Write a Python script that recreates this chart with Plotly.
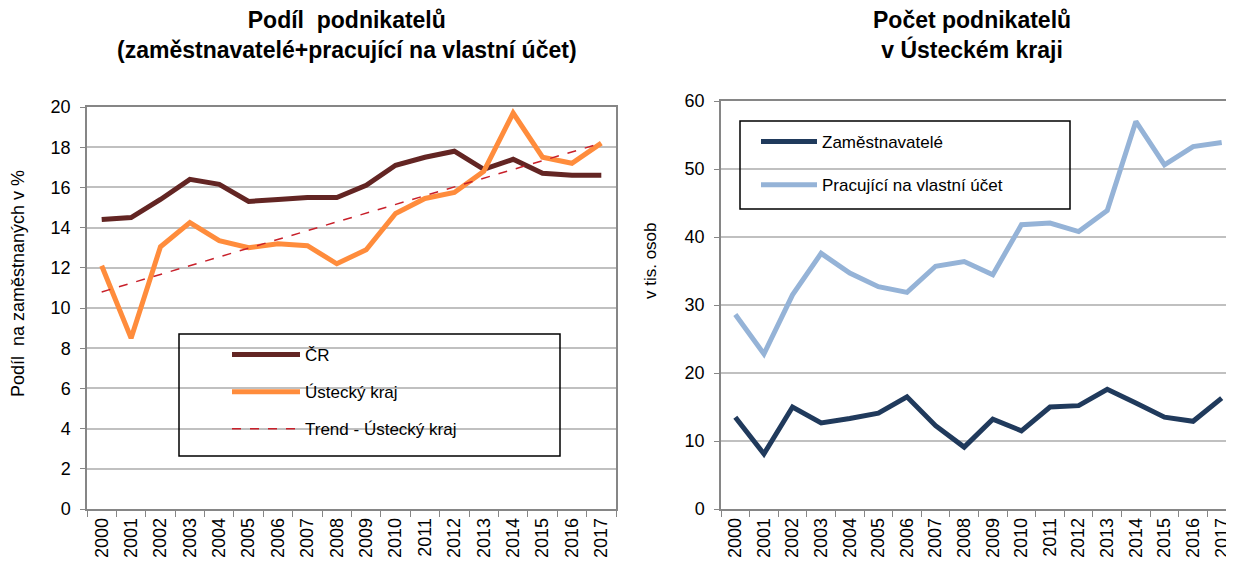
import plotly.graph_objects as go

years = [str(y) for y in range(2000, 2018)]

# Left chart: share of entrepreneurs (%)
podil_cr = [14.4, 14.5, 15.4, 16.4, 16.15, 15.3, 15.4, 15.5, 15.5, 16.1,
            17.1, 17.5, 17.8, 16.9, 17.4, 16.7, 16.6, 16.6]
podil_ustecky = [12.1, 8.5, 13.05, 14.25, 13.35, 13.0, 13.2, 13.1, 12.2, 12.9,
                 14.7, 15.45, 15.75, 16.8, 19.7, 17.5, 17.2, 18.2]
trend_years = ["2000", "2017"]
trend_values = [10.8, 18.2]

# Right chart: number of entrepreneurs in Ústecký kraj (thousands)
zamestnavatele = [13.5, 8.1, 15.0, 12.65, 13.3, 14.1, 16.5, 12.25, 9.1, 13.2,
                  11.5, 15.0, 15.2, 17.6, 15.6, 13.5, 12.9, 16.3]
pracujici = [28.6, 22.8, 31.5, 37.6, 34.7, 32.7, 31.85, 35.7, 36.4, 34.45,
             41.8, 42.05, 40.8, 43.9, 57.0, 50.6, 53.3, 53.9]

W, H = 1234, 569
OFF = 8  # page body margin
FONT = "Liberation Sans, Arial"
TICK_FONT = dict(family=FONT, size=18, color="#000000")
GRID = "#C0C0C0"
AXIS = "#868686"


def px_x(x):
    return (x - OFF) / W


def px_y(y):
    return 1 - (y - OFF) / H


fig = go.Figure()

fig.add_trace(go.Scatter(
    x=years, y=podil_cr, mode="lines", name="ČR",
    line=dict(color="#632523", width=5), legendgroup="a",
    xaxis="x", yaxis="y", legend="legend"
))
fig.add_trace(go.Scatter(
    x=years, y=podil_ustecky, mode="lines", name="Ústecký kraj",
    line=dict(color="#FF8C3C", width=5), legendgroup="b",
    xaxis="x", yaxis="y", legend="legend"
))
fig.add_trace(go.Scatter(
    x=trend_years, y=trend_values, mode="lines", name="Trend - Ústecký kraj",
    line=dict(color="#C8202A", width=1.5, dash="dash"), legendgroup="c",
    xaxis="x", yaxis="y", legend="legend"
))

fig.add_trace(go.Scatter(
    x=years, y=zamestnavatele, mode="lines", name="Zaměstnavatelé",
    line=dict(color="#203A5C", width=5), legendgroup="d",
    xaxis="x2", yaxis="y2", legend="legend2"
))
fig.add_trace(go.Scatter(
    x=years, y=pracujici, mode="lines", name="Pracující na vlastní účet",
    line=dict(color="#95B3D7", width=5), legendgroup="e",
    xaxis="x2", yaxis="y2", legend="legend2"
))

xaxis_common = dict(
    type="category", tickson="boundaries", ticks="outside", ticklen=6,
    tickcolor=AXIS, showline=True, linecolor=AXIS, linewidth=1.5, mirror=True,
    showgrid=False, tickangle=-90, tickfont=TICK_FONT, range=[-0.5, 17.5],
    automargin=False,
)
yaxis_common = dict(
    ticks="outside", ticklen=5, tickcolor=AXIS, showline=True, linecolor=AXIS,
    linewidth=1.5, mirror=True, showgrid=True, gridcolor=GRID, gridwidth=1.5,
    tickfont=TICK_FONT, zeroline=False, automargin=False, ticklabelstandoff=6,
)

fig.update_layout(
    width=W, height=H,
    paper_bgcolor="white", plot_bgcolor="white",
    margin=dict(l=0, r=0, t=0, b=0, autoexpand=False),
    showlegend=True,
    xaxis=dict(domain=[px_x(87), px_x(616)], anchor="y", **xaxis_common),
    yaxis=dict(domain=[px_y(509), px_y(107)], anchor="x", range=[0, 20], dtick=2,
               **yaxis_common),
    xaxis2=dict(domain=[px_x(721), px_x(1236)], anchor="y2", **xaxis_common),
    yaxis2=dict(domain=[px_y(509), px_y(101)], anchor="x2", range=[0, 60], dtick=10,
                **yaxis_common),
    legend=dict(
        x=px_x(227), y=px_y(337), xanchor="left", yanchor="top",
        bgcolor="rgba(0,0,0,0)", borderwidth=0, itemwidth=68,
        traceorder="grouped", tracegroupgap=12,
        font=dict(family=FONT, size=17, color="#000000"),
    ),
    legend2=dict(
        x=px_x(756), y=px_y(124), xanchor="left", yanchor="top",
        bgcolor="rgba(0,0,0,0)", borderwidth=0, itemwidth=56,
        traceorder="grouped", tracegroupgap=18,
        font=dict(family=FONT, size=17, color="#000000"),
    ),
    shapes=[
        dict(type="rect", xref="paper", yref="paper",
             x0=px_x(179), x1=px_x(560), y0=px_y(456), y1=px_y(334),
             line=dict(color="#000000", width=1.5), fillcolor="rgba(0,0,0,0)"),
        dict(type="rect", xref="paper", yref="paper",
             x0=px_x(740), x1=px_x(1070), y0=px_y(209), y1=px_y(121),
             line=dict(color="#000000", width=1.5), fillcolor="rgba(0,0,0,0)"),
    ],
    annotations=[
        dict(text="<b>Podíl  podnikatelů<br>(zaměstnavatelé+pracující na vlastní účet)</b>",
             x=px_x(347), y=px_y(5), xref="paper", yref="paper",
             xanchor="center", yanchor="top", showarrow=False,
             font=dict(family=FONT, size=23, color="#000000")),
        dict(text="<b>Počet podnikatelů<br>v Ústeckém kraji</b>",
             x=px_x(972), y=px_y(5), xref="paper", yref="paper",
             xanchor="center", yanchor="top", showarrow=False,
             font=dict(family=FONT, size=23, color="#000000")),
        dict(text="Podíl  na zaměstnaných v %", textangle=-90,
             x=px_x(18), y=px_y(284), xref="paper", yref="paper",
             xanchor="center", yanchor="middle", showarrow=False,
             font=dict(family=FONT, size=18, color="#000000")),
        dict(text="v tis. osob", textangle=-90,
             x=px_x(650), y=px_y(261), xref="paper", yref="paper",
             xanchor="center", yanchor="middle", showarrow=False,
             font=dict(family=FONT, size=17, color="#000000")),
    ],
)

fig.write_html("out.html")
